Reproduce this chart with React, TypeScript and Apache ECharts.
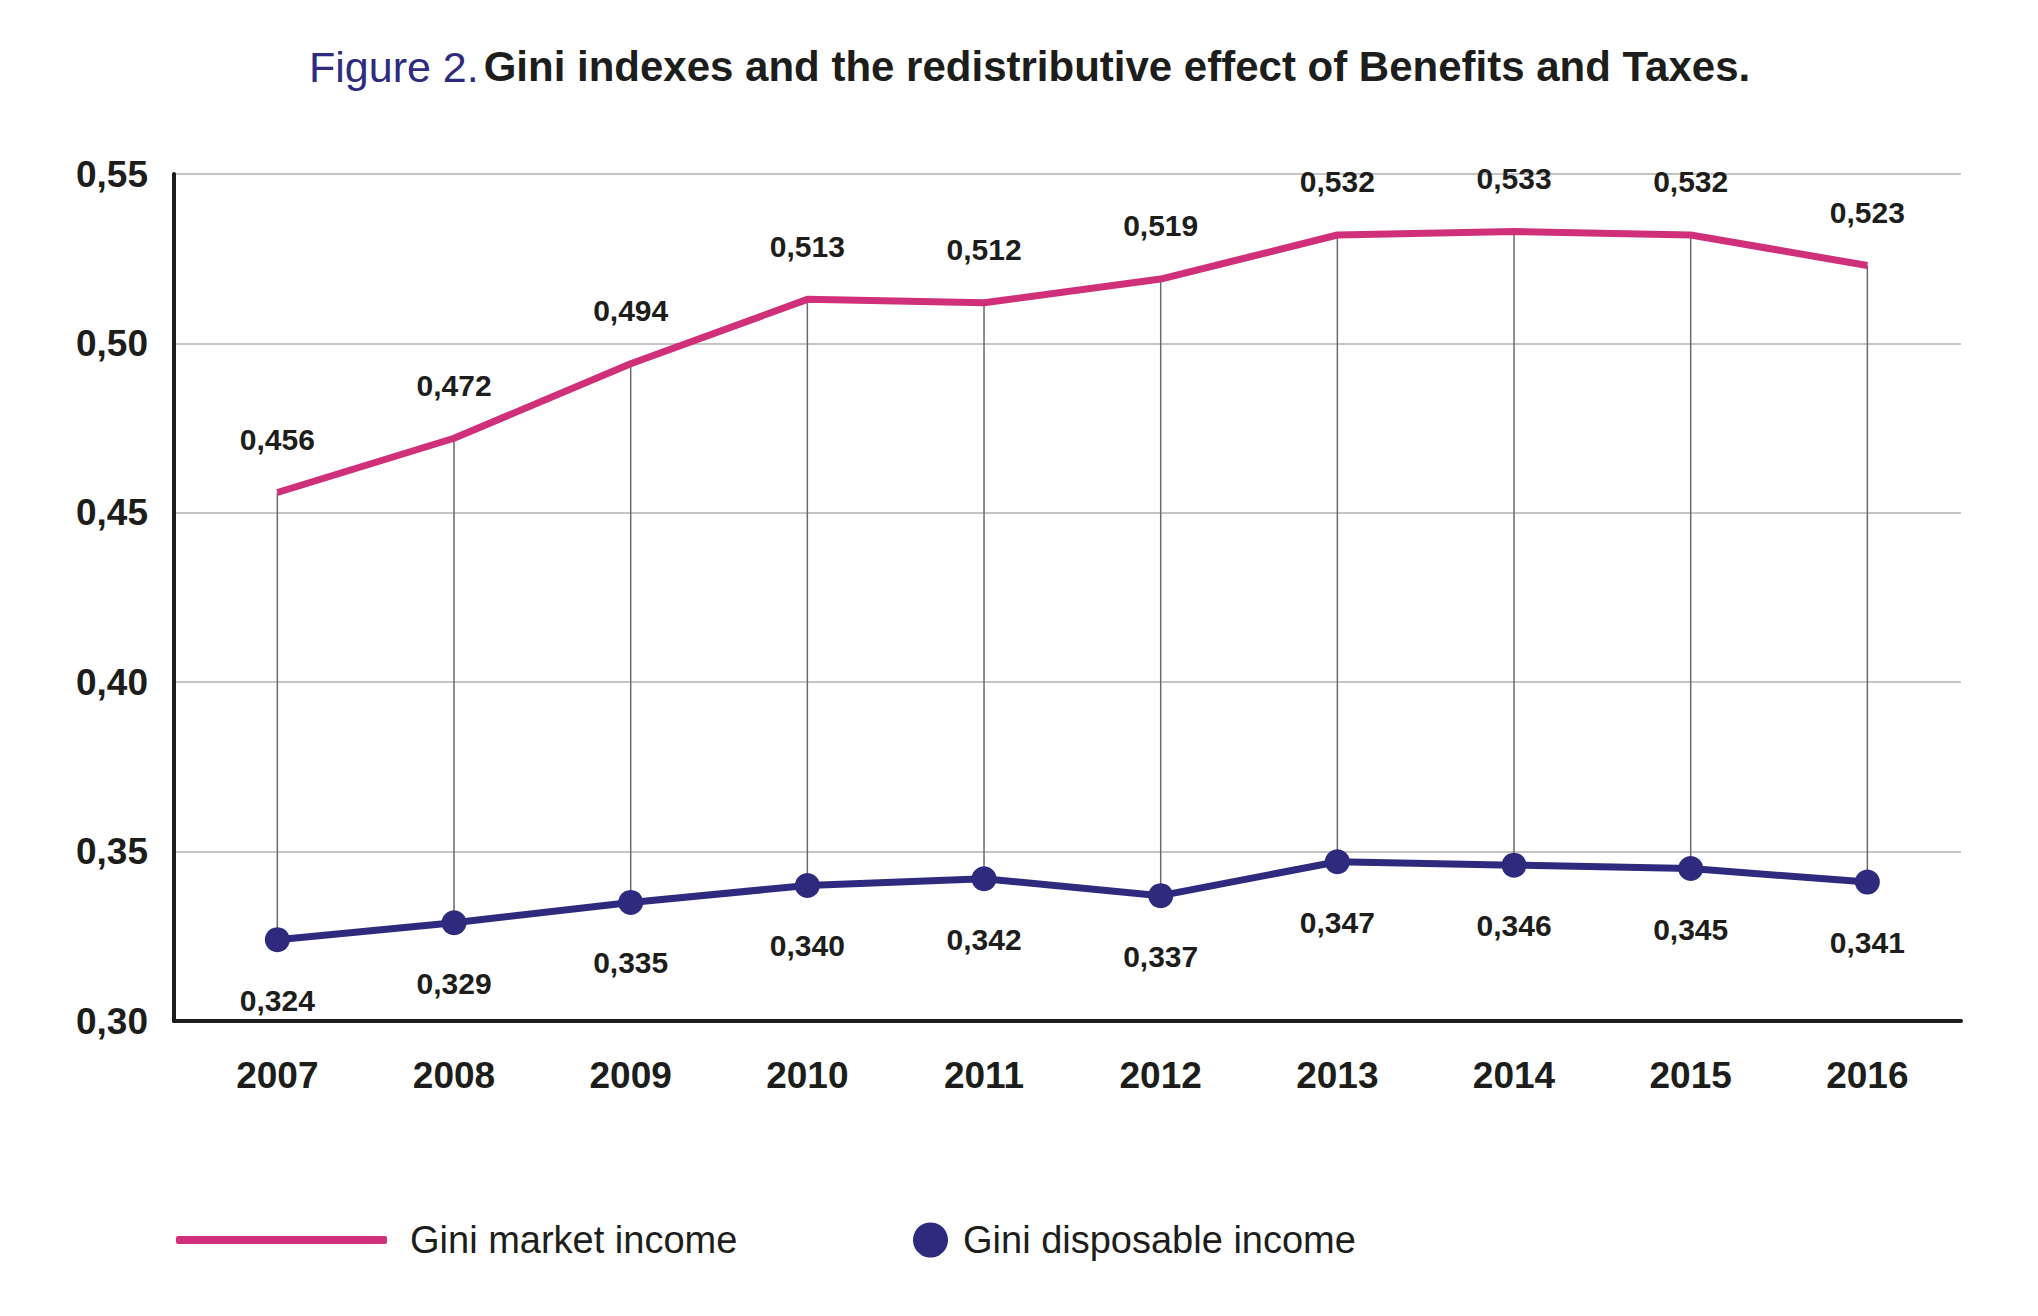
import React, { useEffect, useRef } from "react";
import * as echarts from "echarts";

const years = [2007, 2008, 2009, 2010, 2011, 2012, 2013, 2014, 2015, 2016];
const giniMarket = [0.456, 0.472, 0.494, 0.513, 0.512, 0.519, 0.532, 0.533, 0.532, 0.523];
const giniDisposable = [0.324, 0.329, 0.335, 0.34, 0.342, 0.337, 0.347, 0.346, 0.345, 0.341];
const seriesNames = ["Gini market income", "Gini disposable income"];
const titlePrefix = "Figure 2.";
const titleMain = "Gini indexes and the redistributive effect of Benefits and Taxes.";

const PINK = "#d0307a";
const NAVY = "#2e2a7e";
const INK = "#1d1d1b";
const FONT = "'Liberation Sans', Arial, sans-serif";

const fmt3 = (v: number) => v.toFixed(3).replace(".", ",");

export default function App() {
  const ref = useRef<HTMLDivElement>(null);
  useEffect(() => {
    if (!ref.current) return;
    const chart = echarts.init(ref.current, null, { renderer: "svg" });
    const marketData = years.map((y, i) => [y, giniMarket[i]]);
    const dispData = years.map((y, i) => [y, giniDisposable[i]]);
    const dropData = years.map((y, i) => [y, giniMarket[i], giniDisposable[i]]);
    chart.setOption({
      animation: false,
      backgroundColor: "#ffffff",
      textStyle: { fontFamily: FONT },
      title: {
        text: `{a|${titlePrefix}} {b|${titleMain}}`,
        left: 304,
        top: 40,
        textStyle: {
          rich: {
            a: { fontSize: 43, color: NAVY, fontWeight: "normal", fontFamily: FONT },
            b: { fontSize: 42, color: INK, fontWeight: "bold", fontFamily: FONT },
          },
        },
      },
      legend: [
        {
          data: [seriesNames[0]],
          left: 171,
          top: 1216,
          itemWidth: 211,
          itemHeight: 8,
          icon: "roundRect",
          itemStyle: { color: PINK },
          textStyle: { fontSize: 38, color: INK, fontFamily: FONT, padding: [0, 0, 0, 18] },
          selectedMode: false,
        },
        {
          data: [seriesNames[1]],
          left: 908,
          top: 1216,
          itemWidth: 35,
          itemHeight: 35,
          icon: "circle",
          itemStyle: { color: NAVY },
          textStyle: { fontSize: 38, color: INK, fontFamily: FONT, padding: [0, 0, 0, 10] },
          selectedMode: false,
        },
      ],
      grid: { left: 174, right: 77, top: 174, bottom: 295, containLabel: false },
      xAxis: {
        type: "value",
        min: 2006.415,
        max: 2016.53,
        minInterval: 1,
        maxInterval: 1,
        splitLine: { show: false },
        axisTick: { show: false },
        axisLine: { show: true, onZero: false, lineStyle: { color: INK, width: 4 } },
        axisLabel: {
          showMinLabel: false,
          showMaxLabel: false,
          margin: 36,
          fontSize: 37,
          fontWeight: "bold",
          color: INK,
          fontFamily: FONT,
          formatter: (v: number) => (Math.abs(v - Math.round(v)) < 1e-6 ? String(Math.round(v)) : ""),
        },
      },
      yAxis: {
        type: "value",
        min: 0.3,
        max: 0.55,
        interval: 0.05,
        axisLine: { show: true, lineStyle: { color: INK, width: 4 } },
        axisTick: { show: false },
        splitLine: { show: true, lineStyle: { color: "#c4c4c4", width: 2 } },
        axisLabel: {
          margin: 26,
          fontSize: 37,
          fontWeight: "bold",
          color: INK,
          fontFamily: FONT,
          formatter: (v: number) => v.toFixed(2).replace(".", ","),
        },
      },
      series: [
        {
          type: "custom",
          name: "drop",
          data: dropData,
          encode: { x: 0, y: [1, 2] },
          z: 1,
          silent: true,
          renderItem: (params: any, api: any) => {
            const p1 = api.coord([api.value(0), api.value(1)]);
            const p2 = api.coord([api.value(0), api.value(2)]);
            return {
              type: "line",
              shape: { x1: p1[0], y1: p1[1], x2: p2[0], y2: p2[1] },
              style: { stroke: "#6a6a6a", lineWidth: 1.5 },
            };
          },
        },
        {
          type: "line",
          name: seriesNames[0],
          data: marketData,
          z: 3,
          symbol: "circle",
          symbolSize: 0.1,
          showSymbol: true,
          itemStyle: { color: PINK },
          lineStyle: { color: PINK, width: 7 },
          label: {
            show: true,
            position: "top",
            distance: 38,
            fontSize: 30,
            fontWeight: "bold",
            color: INK,
            fontFamily: FONT,
            formatter: (p: any) => fmt3(p.value[1]),
          },
        },
        {
          type: "line",
          name: seriesNames[1],
          data: dispData,
          z: 4,
          symbol: "circle",
          symbolSize: 25,
          showSymbol: true,
          itemStyle: { color: NAVY },
          lineStyle: { color: NAVY, width: 7 },
          label: {
            show: true,
            position: "bottom",
            distance: 33,
            fontSize: 30,
            fontWeight: "bold",
            color: INK,
            fontFamily: FONT,
            formatter: (p: any) => fmt3(p.value[1]),
          },
        },
      ],
    });
    return () => chart.dispose();
  }, []);
  return (
    <div
      ref={ref}
      style={{ position: "fixed", left: 0, top: 0, width: 2038, height: 1316, background: "#fff" }}
    />
  );
}
